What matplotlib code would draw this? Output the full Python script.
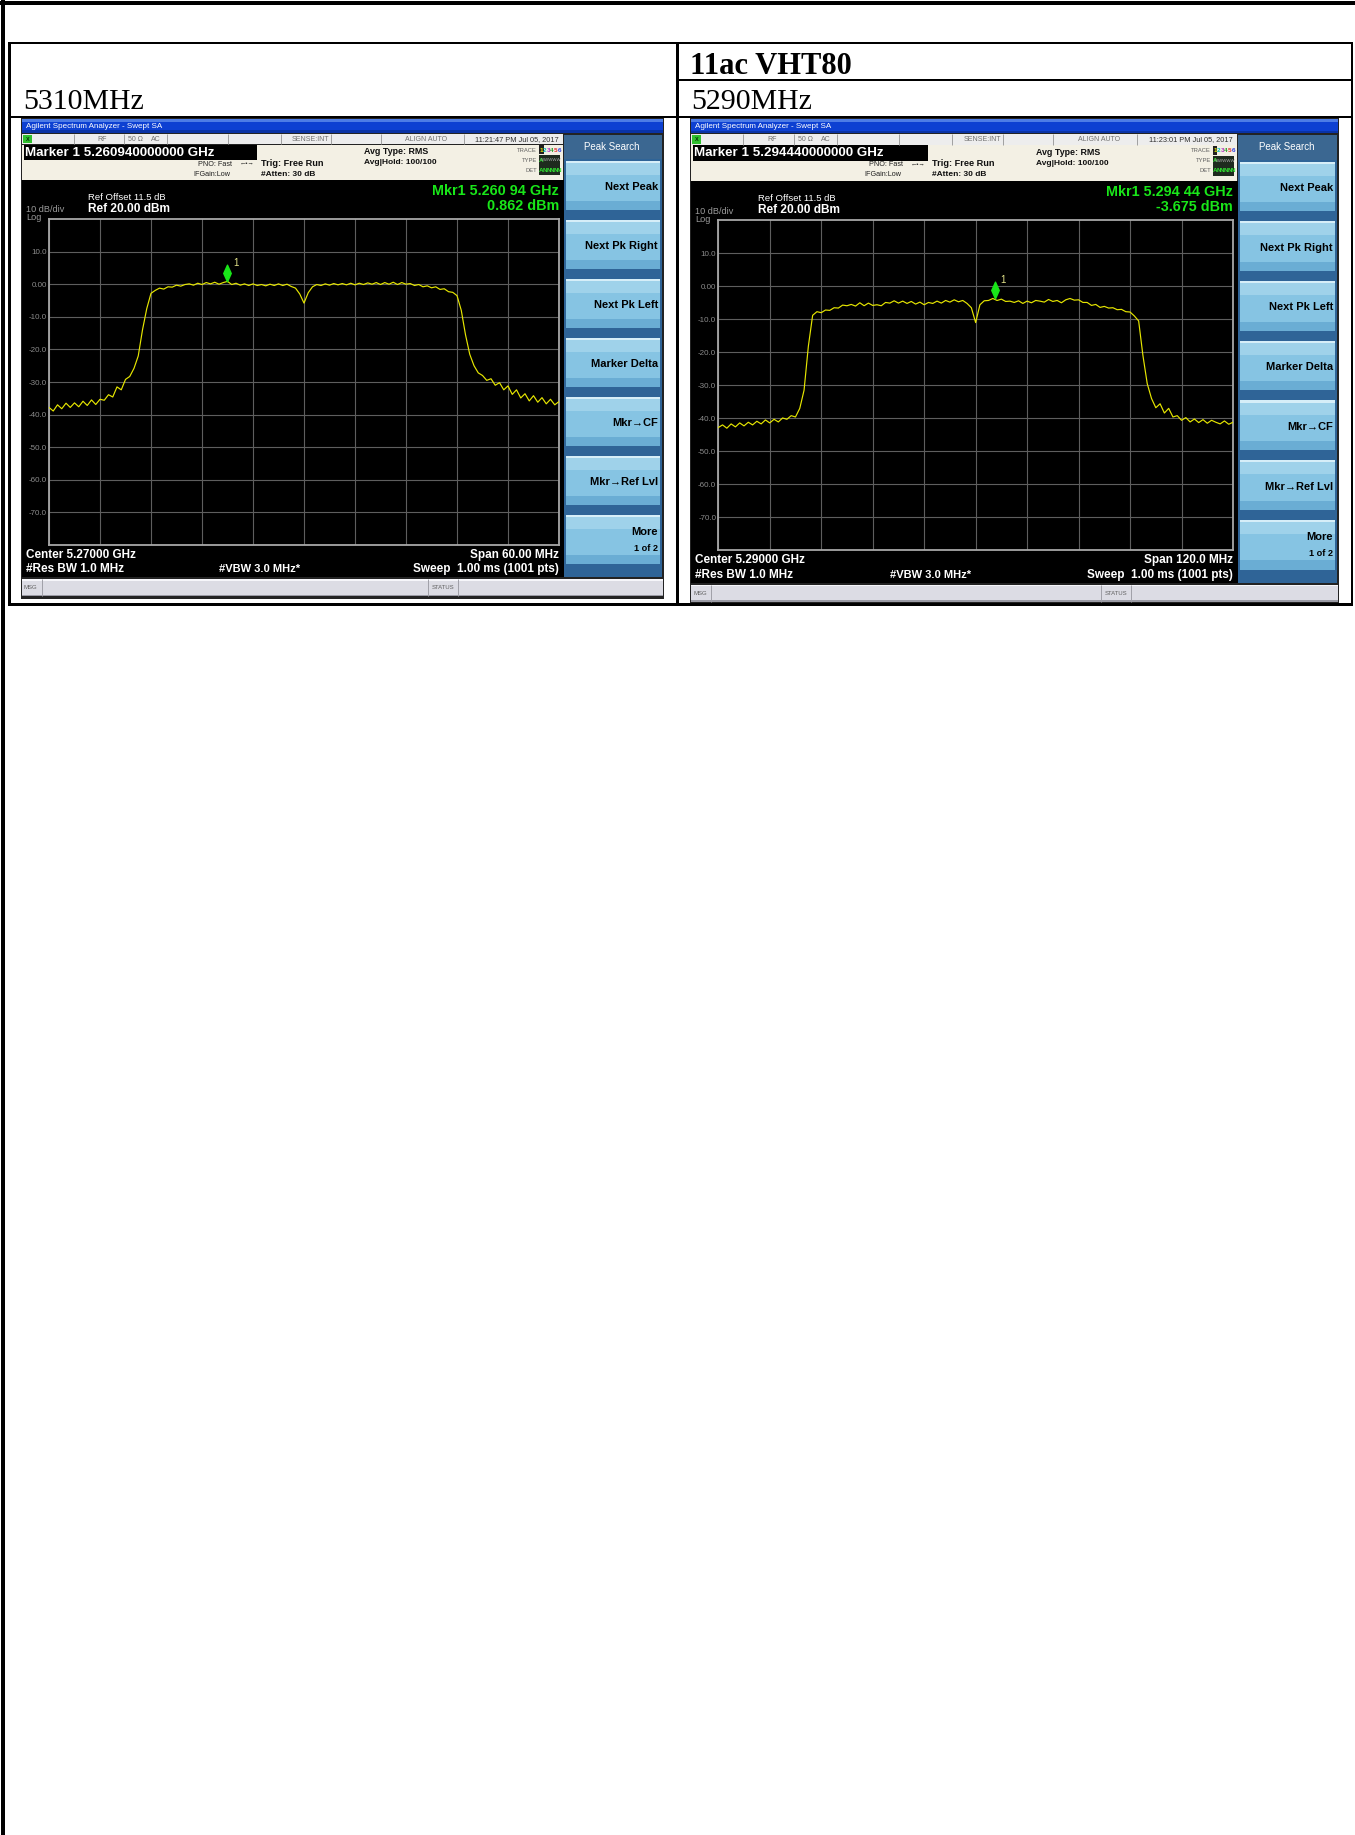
import numpy as np
import matplotlib
matplotlib.use("Agg")
import matplotlib.pyplot as plt
from matplotlib.patches import Rectangle
from matplotlib.path import Path
import matplotlib.transforms as mtransforms

W, H, DPI = 1355, 1835, 100
SANS = ["Liberation Sans", "DejaVu Sans"]
SERIF = ["Liberation Serif", "DejaVu Serif"]

# ------------------------------------------------------------------ data
header_mode = "11ac VHT80"
left_channel = "5310MHz"
right_channel = "5290MHz"

ytick_values = [10, 0, -10, -20, -30, -40, -50, -60, -70]
ytick_labels = ["10.0", "0.00", "-10.0", "-20.0", "-30.0", "-40.0", "-50.0", "-60.0", "-70.0"]
ref_level_dbm = 20
bottom_level_dbm = -80

softkeys = ["Next Peak", "Next Pk Right", "Next Pk Left", "Marker Delta",
            "Mkr\u2192CF", "Mkr\u2192Ref Lvl", "More"]

# left analyser: 5.240 .. 5.300 GHz (levels in dBm, one reading every 0.5 MHz)
left_start_ghz = 5.240
left_stop_ghz = 5.300
left_levels = [
    -37.8, -38.9, -37.0, -38.2, -36.5, -37.8, -36.4, -37.6, -35.9, -37.2,
    -35.5, -36.9, -35.3, -35.6, -33.9, -34.6, -31.5, -32.4, -29.2, -28.3,
    -25.8, -22.0, -14.0, -7.5, -2.8, -1.9, -1.2, -1.5, -0.8, -0.9,
    -0.3, -0.6, -0.1, 0.1, -0.3, 0.3, -0.1, 0.5, 0.1, 0.6,
    0.0, 0.5, 0.86, -0.1, 0.3, -0.3, 0.1, -0.4, 0.1, -0.4,
    -0.1, -0.5, 0.0, -0.4, 0.1, -0.4, 0.0, -0.7, -1.2, -3.0,
    -5.8, -2.6, -0.8, -0.1, -0.4, 0.1, -0.3, 0.2, -0.2, 0.2,
    -0.2, 0.3, -0.2, 0.3, -0.1, 0.4, 0.0, 0.5, -0.1, 0.5,
    0.0, 0.6, -0.1, 0.5, 0.0, 0.2, -0.4, -0.1, -0.8, -0.5,
    -1.1, -0.8, -1.6, -1.4, -2.3, -2.5, -3.5, -8.0, -15.5, -21.5,
    -25.0, -27.2, -28.0, -29.5, -29.0, -31.0, -30.2, -32.4, -31.2, -33.8,
    -32.4, -34.9, -33.6, -35.8, -34.2, -36.2, -34.8, -36.7, -35.3, -37.0,
    -36.0]
left_marker_ghz = 5.26094
left_marker_dbm = 0.862

# right analyser: 5.230 .. 5.350 GHz (one reading every 1 MHz)
right_start_ghz = 5.230
right_stop_ghz = 5.350
right_levels = [
    -42.8, -42.0, -43.0, -41.7, -42.6, -41.4, -42.3, -41.2, -42.0, -40.9,
    -41.7, -40.5, -41.4, -40.3, -41.1, -39.9, -40.3, -39.2, -39.6, -37.0,
    -31.5, -18.2, -8.8, -7.7, -8.0, -7.2, -7.3, -6.5, -6.6, -5.7,
    -5.9, -5.5, -6.0, -5.0, -5.9, -5.1, -5.8, -5.6, -5.9, -4.9,
    -5.1, -4.4, -5.1, -4.5, -5.2, -4.6, -5.4, -4.8, -5.6, -4.9,
    -5.2, -4.5, -5.1, -4.3, -4.8, -4.1, -4.7, -4.3, -5.2, -6.5,
    -11.0, -5.6, -4.4, -4.3, -3.7, -4.3, -3.9, -4.6, -4.5, -4.9,
    -4.4, -5.2, -4.5, -5.0, -4.3, -4.5, -4.8, -4.0, -4.6, -4.3,
    -5.0, -4.1, -3.7, -4.2, -4.1, -4.9, -4.9, -5.8, -5.5, -6.4,
    -6.1, -6.6, -6.5, -7.1, -7.0, -7.7, -7.8, -9.0, -10.5, -21.0,
    -29.5, -34.0, -36.8, -35.6, -38.4, -37.0, -39.6, -39.2, -40.6, -39.8,
    -41.1, -40.2, -41.3, -40.4, -41.5, -40.6, -41.2, -41.7, -40.8, -41.8,
    -41.2]
right_marker_ghz = 5.29444
right_marker_dbm = -3.675

left_texts = dict(
    clock="11:21:47 PM Jul 05, 2017",
    marker="Marker 1 5.260940000000 GHz",
    mkr="Mkr1 5.260 94 GHz", mkr_val="0.862 dBm",
    center="Center 5.27000 GHz", span="Span 60.00 MHz")
right_texts = dict(
    clock="11:23:01 PM Jul 05, 2017",
    marker="Marker 1 5.294440000000 GHz",
    mkr="Mkr1 5.294 44 GHz", mkr_val="-3.675 dBm",
    center="Center 5.29000 GHz", span="Span 120.0 MHz")

# ------------------------------------------------------------------ figure
fig = plt.figure(figsize=(W / DPI, H / DPI), dpi=DPI, facecolor="white")
bg = fig.add_axes([0, 0, 1, 1])
bg.set_xlim(0, W)
bg.set_ylim(H, 0)
bg.axis("off")


def rect(x, y, w, h, fc, z=1):
    bg.add_patch(Rectangle((x, y), w, h, facecolor=fc, edgecolor="none",
                           linewidth=0, zorder=z))


# page border (top and left)
rect(0, 1, W, 4, "black", z=3)
rect(1, 0, 4, H, "black", z=3)

# table
rect(8, 42, 1345, 2.5, "black", z=3)          # top
rect(8, 42, 2.5, 564, "black", z=3)           # left
rect(676, 42, 2.5, 564, "black", z=3)         # divider
rect(1350.5, 42, 2.5, 564, "black", z=3)      # right
rect(677, 79, 676, 2.5, "black", z=3)         # header separator (right)
rect(8, 116, 1345, 2.5, "black", z=3)         # header bottom
rect(8, 603, 1345, 3, "black", z=3)           # table bottom

bg.text(690, 74, header_mode, family=SERIF, fontweight="bold", fontsize=22,
        va="baseline", ha="left", zorder=5)
bg.text(23, 109, left_channel, family=SERIF, fontsize=21.5, va="baseline",
        ha="left", zorder=5)
bg.text(691, 109, right_channel, family=SERIF, fontsize=21.5, va="baseline",
        ha="left", zorder=5)

diamond = Path([(0, 1), (0.45, 0), (0, -1), (-0.45, 0), (0, 1)],
               [Path.MOVETO, Path.LINETO, Path.LINETO, Path.LINETO, Path.CLOSEPOLY])


def draw_sa(X0, Y0, BW, BH, start, stop, levels, mk_f, mk_l, tx):
    sx, sy = BW / 643.0, BH / 481.0

    def R(x, y, w, h, fc, z=2):
        rect(X0 + x * sx, Y0 + y * sy, w * sx, h * sy, fc, z)

    def T(x, y, s, size, color="black", weight="normal", ha="left", va="center"):
        bg.text(X0 + x * sx, Y0 + y * sy, s, fontsize=size, color=color,
                fontweight=weight, ha=ha, va=va, family=SANS, zorder=6)

    def VL(x, y0, y1, color, lw=0.7):
        bg.plot([X0 + x * sx] * 2, [Y0 + y0 * sy, Y0 + y1 * sy], color=color,
                lw=lw, zorder=4, solid_capstyle="butt")

    # frame
    R(0, 0, 643, 481, "#232323", z=1)
    # title bar
    R(1, 1, 641, 14, "#0d40d2")
    R(1, 1, 641, 3, "#4d7ce6")
    R(1, 12.5, 641, 2.5, "#0a33a6")
    T(5, 8.5, "Agilent Spectrum Analyzer - Swept SA", 5.8, "white")

    # status row
    R(1, 16, 541, 10.5, "#ededed")
    R(2, 17, 9, 8.5, "#2fbf2f")
    T(6.5, 21.5, "X", 4, "#0a300a", weight="bold", ha="center")
    for sp in [53, 103, 146, 207, 260, 310, 360, 443]:
        VL(sp, 16, 26.5, "#a0a0a0")
    st_col = "#707070"
    T(81, 21.5, "RF", 5, st_col, ha="center")
    T(107, 21.5, "50 \u03a9", 5, st_col)
    T(130, 21.5, "AC", 5, st_col)
    T(308, 21.5, "SENSE:INT", 5, st_col, ha="right")
    T(405, 21.5, "ALIGN AUTO", 5, st_col, ha="center")
    T(538, 21.5, tx["clock"], 5.3, "#303030", ha="right")

    # info area
    R(1, 27, 541, 35, "#f3f0e4")
    R(3, 27, 233, 15, "black", z=3)
    T(4, 35, tx["marker"], 9.6, "white", weight="bold")
    T(211, 46, "PNO: Fast", 5.2, "#202020", ha="right")
    T(226, 46, "\u2190\u2022\u2192", 4.5, "#202020", ha="center")
    T(209, 56, "IFGain:Low", 5.2, "#202020", ha="right")
    T(240, 45, "Trig: Free Run", 6.6, "#101010", weight="bold")
    T(240, 56, "#Atten: 30 dB", 6.0, "#101010", weight="bold")
    T(343, 34, "Avg Type: RMS", 6.4, "#101010", weight="bold")
    T(343, 45, "Avg|Hold: 100/100", 6.0, "#101010", weight="bold")
    T(516, 32, "TRACE", 4.2, "#606060", ha="right")
    T(516, 42, "TYPE", 4.2, "#606060", ha="right")
    T(516, 52, "DET", 4.2, "#606060", ha="right")
    R(518, 27.5, 4.5, 9, "#202020", z=3)
    trace_cols = ["#e8e800", "#00b8b8", "#b030c0", "#30a030", "#e03030", "#3040e0"]
    for k, c in enumerate(trace_cols):
        T(520.2 + k * 3.6, 32, str(k + 1), 4.6, c, weight="bold", ha="center")
    R(518, 37.5, 21, 20, "#1e2a1e", z=3)
    T(520.2, 42, "A", 4.6, "#30e030", weight="bold", ha="center")
    T(530.5, 42, "WWWWW", 3.2, "#b0b0b0", ha="center")
    for k in range(6):
        T(520.2 + k * 3.6, 52, "A" if k == 0 else "N", 4.6, "#30e030",
          weight="bold", ha="center")

    # display area
    R(1, 62, 542, 397, "black")
    green = "#19e619"
    T(538, 73, tx["mkr"], 10.4, green, weight="bold", ha="right")
    T(538, 88, tx["mkr_val"], 10.4, green, weight="bold", ha="right")
    T(67, 80, "Ref Offset 11.5 dB", 6.8, "white")
    T(67, 91, "Ref 20.00 dBm", 8.6, "white", weight="bold")
    T(5, 92, "10 dB/div", 6.6, "#9a9a9a")
    T(5, 100, "Log", 6.6, "#9a9a9a")
    T(5, 437, tx["center"], 8.5, "white", weight="bold")
    T(5, 451, "#Res BW 1.0 MHz", 8.5, "white", weight="bold")
    T(198, 451, "#VBW 3.0 MHz*", 8.0, "white", weight="bold")
    T(538, 437, tx["span"], 8.5, "white", weight="bold", ha="right")
    T(538, 451, "Sweep  1.00 ms (1001 pts)", 8.5, "white", weight="bold", ha="right")

    # MSG bar
    R(1, 461, 641, 17, "#dcdce4")
    R(1, 461, 641, 1.5, "#f6f6fa")
    R(1, 476.5, 641, 1.5, "#9a9aa4")
    for sp in [21, 407, 437]:
        VL(sp, 461, 478, "#a0a0a8")
    T(3, 469.5, "MSG", 4.3, "#606060")
    T(422, 469.5, "STATUS", 4.3, "#606060", ha="center")

    # softkey panel
    R(543, 17, 98, 442, "#2f6497")
    R(543, 17, 98, 24, "#3b6791")
    T(591, 29, "Peak Search", 7.0, "white", ha="center")
    for i, label in enumerate(softkeys):
        top = 43 + i * 59
        R(545, top, 94, 49, "#86c4e3", z=3)
        R(545, top, 94, 2, "#d6eef8", z=3)
        R(545, top + 2, 94, 12, "#9fd2ea", z=3)
        R(545, top + 40, 94, 9, "#6aadd4", z=3)
        if label == "More":
            T(637, top + 17, "More", 8.0, "black", weight="bold", ha="right")
            T(637, top + 33, "1 of 2", 6.6, "black", weight="bold", ha="right")
        else:
            T(637, top + 26, label, 8.0, "black", weight="bold", ha="right")

    # graticule
    gx0, gx1 = X0 + 28 * sx, X0 + 538 * sx
    gy0, gy1 = Y0 + 101 * sy, Y0 + 427 * sy
    ax = fig.add_axes([gx0 / W, 1 - gy1 / H, (gx1 - gx0) / W, (gy1 - gy0) / H])
    ax.set_facecolor("black")
    ax.set_xlim(start, stop)
    ax.set_ylim(bottom_level_dbm, ref_level_dbm)
    ax.set_xticks(np.linspace(start, stop, 11))
    ax.set_yticks(ytick_values)
    ax.set_yticklabels(ytick_labels)
    ax.grid(True, color="#5e5e5e", lw=0.8)
    ax.set_axisbelow(True)
    ax.tick_params(length=0, labelbottom=False, labelsize=5.8,
                   labelcolor="#8c8c8c", pad=1.5)
    for lbl in ax.get_yticklabels():
        lbl.set_family(SANS)
    for s in ax.spines.values():
        s.set_color("#a8a8a8")
        s.set_linewidth(1.3)
    freqs = np.linspace(start, stop, len(levels))
    ax.plot(freqs, levels, color="#e6e600", lw=0.85, zorder=3)
    tr = mtransforms.offset_copy(ax.transData, fig=fig, x=0, y=8.5, units="dots")
    ax.plot([mk_f], [mk_l], marker=diamond, ms=12, color=green, mec=green,
            transform=tr, zorder=5, clip_on=False, linestyle="none")
    ax.annotate("1", xy=(mk_f, mk_l), xytext=(6, 18), textcoords="offset pixels",
                color="#e4e48a", fontsize=7, family=SANS, ha="left", va="center",
                zorder=6)


draw_sa(21, 118, 643, 481, left_start_ghz, left_stop_ghz, left_levels,
        left_marker_ghz, left_marker_dbm, left_texts)
draw_sa(690, 118, 649, 487, right_start_ghz, right_stop_ghz, right_levels,
        right_marker_ghz, right_marker_dbm, right_texts)

fig.savefig("out.png", dpi=DPI, facecolor="white")
